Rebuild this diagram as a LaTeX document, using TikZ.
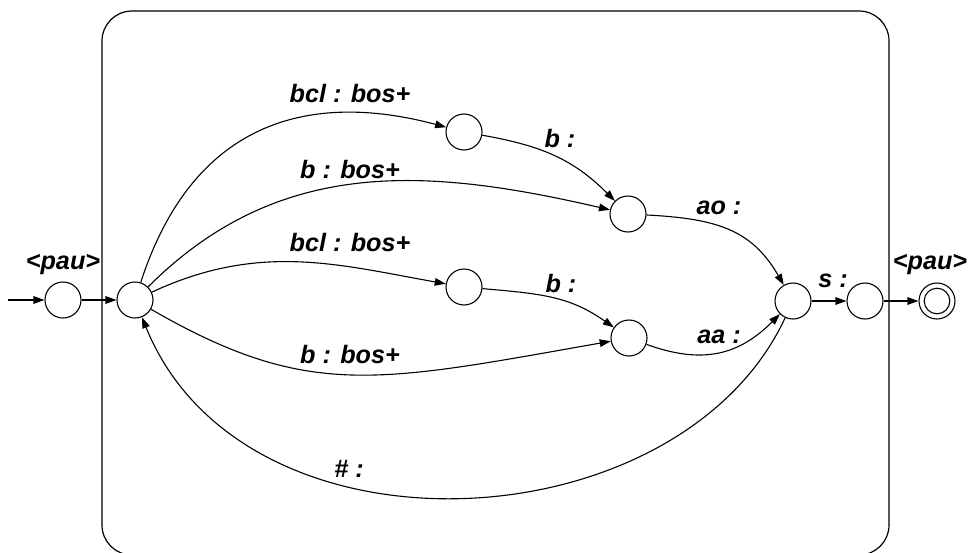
\documentclass[tikz,border=0pt]{standalone}
\usepackage{fontspec}
\setmainfont{Liberation Sans}
\usetikzlibrary{arrows.meta}

\begin{document}
\begin{tikzpicture}[x=0.5pt,y=0.5pt,line width=0.55pt,>={Triangle[length=5.5pt,width=3.8pt]},
		state/.style={circle,draw,minimum size=18pt,inner sep=0pt},
		lab/.style={anchor=base,inner sep=0pt,font=\fontsize{12.6}{15}\selectfont\bfseries\itshape}]
	\useasboundingbox (0,0) rectangle (970,-552);
	\draw[line width=0.6pt,rounded corners=15pt] (102,-11) rectangle (889,-555);

	\coordinate (in) at (8,-300);
	\node[state] (start) at (63,-300) {};
	\node[state] (s1) at (135,-300) {};
	\node[state] (u1) at (464,-132) {};
	\node[state] (u2) at (628,-214) {};
	\node[state] (l1) at (464,-287) {};
	\node[state] (l2) at (629,-338) {};
	\node[state] (m) at (793,-301) {};
	\node[state] (n) at (865,-301) {};
	\node[state] (fin) at (937,-301) {};
	\draw (fin) circle[radius=6.4pt];

	\draw[->] (in) -- (start);
	\draw[->] (start) -- (s1);
	\draw[->] (s1) .. controls +(72:210) and +(165:133) .. (u1);
	\draw[->] (s1) .. controls +(45:204) and +(167:205) .. (u2);
	\draw[->] (s1) .. controls +(25:138) and +(170:126) .. (l1);
	\draw[->] (s1) .. controls +(-30:200) and +(190:256) .. (l2);
	\draw[->] (u1) .. controls +(-10:78) and +(135:78) .. (u2);
	\draw[->] (l1) .. controls +(-5:78) and +(145:73) .. (l2);
	\draw[->] (u2) .. controls +(-3:88) and +(120:83) .. (m);
	\draw[->] (l2) .. controls +(-20:80) and +(225:75) .. (m);
	\draw[->] (m) .. controls +(245:270) and +(-68:290) .. (s1);
	\draw[->] (m) -- (n);
	\draw[->] (n) -- (fin);

	\node[lab] (pauin) at (63,-269) {<pau>};
	\node[lab] (bclup) at (350,-102) {bcl : bos+};
	\node[lab] (bup) at (350,-178) {b : bos+};
	\node[lab] (bcllo) at (350,-251) {bcl : bos+};
	\node[lab] (blo) at (350,-363) {b : bos+};
	\node[lab] (bbup) at (560,-147) {b :};
	\node[lab] (bblo) at (561,-292) {b :};
	\node[lab] (ao) at (719,-214) {ao :};
	\node[lab] (aa) at (719,-343) {aa :};
	\node[lab] (hash) at (349,-477) {\# :};
	\node[lab] (s) at (833,-287) {s :};
	\node[lab] (pauout) at (930,-269) {<pau>};
\end{tikzpicture}
\end{document}
